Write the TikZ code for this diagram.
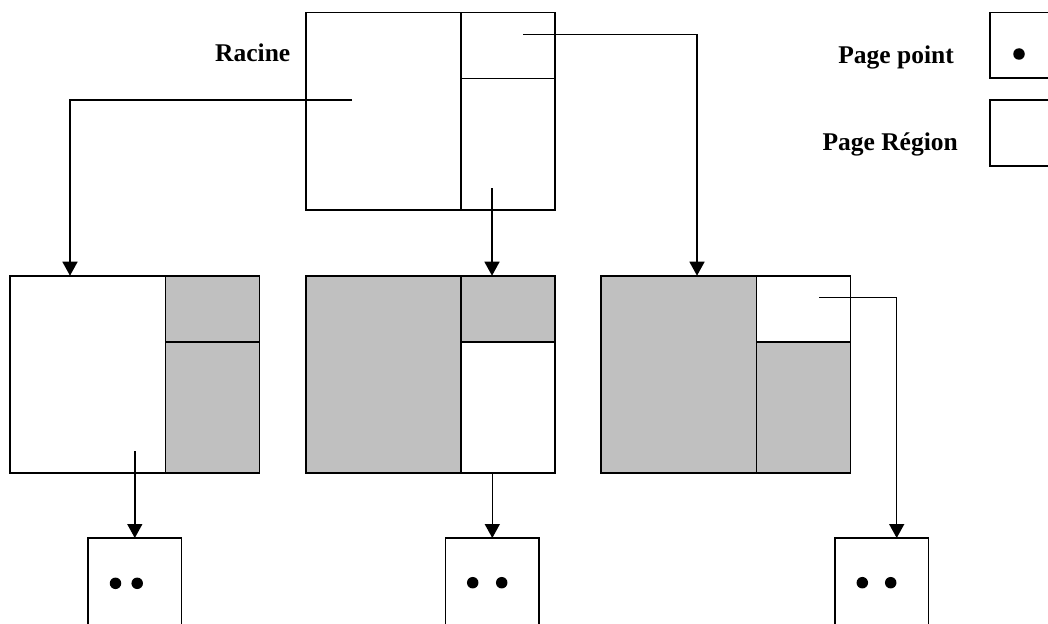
\documentclass[tikz,border=0pt]{standalone}
\usepackage{fontspec}
\setmainfont{Liberation Serif}
\usetikzlibrary{arrows.meta}
\definecolor{pagegray}{HTML}{C0C0C0}
\begin{document}
\begin{tikzpicture}[x=1pt,y=-1pt,
  box/.style={draw, line width=1.6pt, inner sep=0pt, outer sep=0pt, anchor=north west},
  wide/.style={box, minimum width=155.3pt, minimum height=197.3pt},
  upper/.style={box, minimum width=94pt, minimum height=66pt},
  lower/.style={box, minimum width=94pt, minimum height=131.3pt},
  leaf/.style={draw, line width=1.4pt, inner sep=0pt, outer sep=0pt, anchor=north,
    minimum width=93.7pt, minimum height=130pt},
  pt/.style={circle, fill=black, inner sep=0pt, minimum size=11.5pt},
  arr/.style={line width=1.5pt, -{Triangle[length=14pt,width=15pt]}},
  lbl/.style={font=\fontsize{25.5}{30}\selectfont\bfseries, inner sep=0pt, anchor=base east}]
\useasboundingbox (0,0) rectangle (1048,623);
\clip (0,0) rectangle (1048,623);

% root page
\node[wide, fill=white] (rL) at (305.7,12.7) {};
\node[upper, fill=white] (rU) at (rL.north east) {};
\node[lower, fill=white] (rD) at (rU.south west) {};
\node[lbl] (racine) at (290.5,62) {Racine};

% child pages
\node[wide, fill=white] (c1L) at (10,275.7) {};
\node[upper, fill=pagegray] (c1U) at (c1L.north east) {};
\node[lower, fill=pagegray] (c1D) at (c1U.south west) {};

\node[wide, fill=pagegray] (c2L) at (305.7,275.7) {};
\node[upper, fill=pagegray] (c2U) at (c2L.north east) {};
\node[lower, fill=white] (c2D) at (c2U.south west) {};

\node[wide, fill=pagegray] (c3L) at (601,275.7) {};
\node[upper, fill=white] (c3U) at (c3L.north east) {};
\node[lower, fill=pagegray] (c3D) at (c3U.south west) {};

% point pages
\node[leaf] (f1) at (134.8,538) {};
\node[pt] (f1a) at (115.5,583.3) {};
\node[pt] (f1b) at (137.2,583.3) {};
\node[leaf] (f2) at (492.3,538) {};
\node[pt] (f2a) at (472.7,582.7) {};
\node[pt] (f2b) at (501.7,582.7) {};
\node[leaf] (f3) at (881.7,538) {};
\node[pt] (f3a) at (862.3,582.7) {};
\node[pt] (f3b) at (890.7,582.7) {};

% legend
\node[box, minimum width=70pt, minimum height=65.6pt] (lp) at (990,12.7) {};
\node[pt] (lpd) at (1019,54) {};
\node[box, minimum width=70pt, minimum height=66pt] (lr) at (990,100) {};
\node[lbl] (lpt) at (954,63.3) {Page point};
\node[lbl] (lrt) at (958,150.7) {Page Région};

% pointers
\coordinate (s1) at (352,100);
\coordinate (k1) at (70,100);
\draw[arr] (s1) -- (k1) -- (k1 |- c1L.north);

\coordinate (s2) at (492,188);
\draw[arr] (s2) -- (s2 |- c2U.north);

\coordinate (s3) at (523,34.3);
\coordinate (k3) at (697,34.3);
\draw[arr] (s3) -- (k3) -- (k3 |- c3L.north);

\coordinate (s4) at (134.8,451);
\draw[arr] (s4) -- (s4 |- f1.north);

\draw[arr] (f2.north |- c2D.south) -- (f2.north);

\coordinate (s6) at (819,297.7);
\coordinate (k6) at (896.7,297.7);
\draw[arr] (s6) -- (k6) -- (k6 |- f3.north);
\end{tikzpicture}
\end{document}
